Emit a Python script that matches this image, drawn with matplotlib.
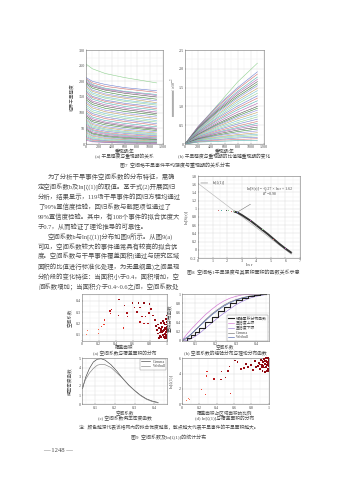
import numpy as np
import matplotlib
matplotlib.use('Agg')
import matplotlib.pyplot as plt
from matplotlib.ticker import FormatStrFormatter, AutoMinorLocator

plt.rcParams['font.family'] = ['Liberation Serif', 'Noto Sans CJK SC', 'DejaVu Sans']
plt.rcParams['mathtext.fontset'] = 'stix'
plt.rcParams['axes.unicode_minus'] = False

W, H = 339, 480
TXT = '#4a4a4a'

# ---- Fig 7 data: one row per drought event ----
t_a = [2, 100, 300, 600, 1100]
curves_a = [
    [255, 240, 225, 212, 195], [212, 200, 190, 180, 170], [208, 195, 184, 176, 165],
    [205, 190, 178, 168, 158], [200, 187, 175, 166, 155], [196, 183, 172, 162, 150],
    [192, 178, 166, 155, 143], [188, 172, 160, 150, 138], [183, 168, 156, 146, 132],
    [178, 163, 150, 140, 128], [172, 158, 146, 136, 124], [168, 152, 140, 130, 118],
    [163, 148, 136, 126, 113], [158, 143, 131, 120, 108], [152, 137, 125, 115, 102],
    [147, 132, 120, 110, 97], [141, 126, 114, 104, 92], [135, 120, 108, 98, 86],
    [130, 115, 103, 93, 81], [124, 109, 97, 87, 75], [118, 103, 92, 82, 70],
    [112, 97, 86, 77, 65], [106, 92, 81, 72, 60], [100, 86, 75, 66, 55],
    [95, 81, 70, 61, 50], [90, 76, 66, 57, 47], [85, 71, 61, 53, 43],
    [80, 66, 56, 48, 39], [76, 62, 52, 44, 35], [72, 58, 48, 40, 32],
    [68, 54, 45, 37, 29], [64, 50, 41, 34, 26], [60, 46, 37, 30, 23],
    [56, 43, 34, 27, 20], [52, 39, 31, 24, 18], [48, 35, 27, 21, 15],
    [44, 32, 24, 18, 13], [40, 28, 21, 15, 11], [36, 25, 18, 13, 9],
    [32, 21, 15, 11, 7], [28, 18, 12, 9, 6], [24, 15, 10, 7, 5],
    [20, 12, 8, 6, 4], [16, 9, 6, 4, 3], [12, 7, 5, 3, 2],
]
t_b = [0, 200, 500, 800, 1100]
curves_b = [
    [0, 0.45, 1.05, 1.65, 2.15], [0, 0.47, 1.03, 1.50, 1.92], [0, 0.46, 1.00, 1.46, 1.86],
    [0, 0.44, 0.96, 1.40, 1.78], [0, 0.43, 0.93, 1.36, 1.72], [0, 0.42, 0.90, 1.31, 1.66],
    [0, 0.40, 0.87, 1.26, 1.60], [0, 0.39, 0.84, 1.22, 1.55], [0, 0.37, 0.80, 1.17, 1.48],
    [0, 0.36, 0.77, 1.12, 1.42], [0, 0.34, 0.73, 1.07, 1.35], [0, 0.33, 0.70, 1.01, 1.28],
    [0, 0.31, 0.66, 0.96, 1.22], [0, 0.30, 0.63, 0.91, 1.15], [0, 0.28, 0.59, 0.85, 1.08],
    [0, 0.26, 0.55, 0.79, 1.00], [0, 0.25, 0.52, 0.75, 0.95], [0, 0.24, 0.50, 0.71, 0.90],
    [0, 0.23, 0.47, 0.67, 0.84], [0, 0.21, 0.44, 0.62, 0.78], [0, 0.20, 0.41, 0.57, 0.72],
    [0, 0.19, 0.38, 0.53, 0.66], [0, 0.17, 0.35, 0.48, 0.60], [0, 0.16, 0.32, 0.44, 0.55],
    [0, 0.15, 0.30, 0.41, 0.50], [0, 0.14, 0.27, 0.37, 0.45], [0, 0.13, 0.24, 0.33, 0.40],
    [0, 0.12, 0.22, 0.29, 0.35], [0, 0.11, 0.19, 0.25, 0.30], [0, 0.10, 0.17, 0.22, 0.26],
    [0, 0.09, 0.15, 0.19, 0.22], [0, 0.08, 0.12, 0.16, 0.18], [0, 0.06, 0.10, 0.12, 0.14],
    [0, 0.05, 0.07, 0.09, 0.10],
]
line_colors = ['#8fd08f', '#6f80d0', '#d07070', '#50b0b0', '#b060b0', '#555555',
               '#3a8a3a', '#9090e0', '#c0a060', '#70c0d0']

# ---- Fig 8 data ----
lnr_flat = [0.69, 1.10, 1.39, 1.61, 1.79, 1.95, 2.08, 2.20, 2.30, 2.40]
lns_flat = [0.97, 0.97, 0.96, 0.96, 0.96, 0.95, 0.95, 0.95, 0.94, 0.94]
lnr_curve = [2.5, 2.7, 3.0, 3.3, 3.6, 4.0, 4.4, 4.8, 5.2, 5.6, 6.0, 6.4]
lns_curve = [0.93, 0.91, 0.85, 0.78, 0.71, 0.60, 0.49, 0.38, 0.26, 0.14, 0.03, -0.07]
fit_x = [0, 6.4]
fit_y = [1.62, -0.108]
ln_zeta1 = 1.63

# ---- Fig 9 data ----
area_a = [0.05, 0.06, 0.20, 0.20, 0.23, 0.26, 0.27, 0.33, 0.35, 0.34, 0.43, 0.44, 0.50, 0.53,
          0.49, 0.54, 0.62, 0.67, 0.69, 0.73, 0.71, 0.75, 0.80, 0.82, 0.69, 0.73, 0.78, 0.84,
          0.86, 0.79, 0.60, 0.65,
          0.88, 0.89, 0.90, 0.91, 0.92, 0.93, 0.93, 0.94, 0.95, 0.95, 0.96, 0.96, 0.97, 0.97,
          0.98, 0.98, 0.99, 0.99, 0.99, 1.00, 1.00, 1.00, 1.00, 1.00, 0.99, 0.98, 0.97, 0.96,
          0.94, 0.92, 0.90, 0.91, 0.98, 1.00, 1.00, 0.99]
coef_a = [0.10, 0.14, 0.11, 0.15, 0.17, 0.19, 0.23, 0.31, 0.32, 0.29, 0.27, 0.41, 0.36, 0.29,
          0.16, 0.26, 0.34, 0.38, 0.34, 0.38, 0.26, 0.26, 0.37, 0.33, 0.21, 0.20, 0.20, 0.27,
          0.23, 0.29, 0.38, 0.30,
          0.18, 0.14, 0.11, 0.16, 0.09, 0.13, 0.20, 0.08, 0.12, 0.17, 0.10, 0.22, 0.14, 0.08,
          0.19, 0.11, 0.24, 0.15, 0.09, 0.27, 0.21, 0.13, 0.17, 0.10, 0.12, 0.16, 0.20, 0.13,
          0.15, 0.12, 0.19, 0.07, 0.07, 0.07, 0.24, 0.19]
r2_a = [0.3, 0.3, 0.4, 0.4, 0.5, 0.5, 0.6, 0.8, 0.8, 0.7, 0.85, 0.9, 0.9, 0.85,
        0.6, 0.8, 0.9, 0.95, 0.9, 0.95, 0.85, 0.85, 0.95, 0.9, 0.8, 0.8, 0.85, 0.9,
        0.9, 0.9, 0.9, 0.9] + [0.95] * 36

cdf_x = [0.04, 0.06, 0.08, 0.10, 0.12, 0.15, 0.18, 0.21, 0.24, 0.27, 0.30, 0.33, 0.36, 0.39, 0.42, 0.45]
cdf_emp = [0.0, 0.06, 0.13, 0.20, 0.28, 0.40, 0.52, 0.63, 0.72, 0.80, 0.87, 0.92, 0.95, 0.98, 1.0, 1.0]
cdf_up = [0.04, 0.15, 0.25, 0.34, 0.43, 0.56, 0.67, 0.77, 0.85, 0.91, 0.95, 0.98, 0.99, 1.0, 1.0, 1.0]
cdf_lo = [0.0, 0.01, 0.05, 0.10, 0.16, 0.27, 0.38, 0.49, 0.59, 0.68, 0.77, 0.84, 0.90, 0.94, 0.97, 0.99]
cdf_gam = [0.01, 0.06, 0.14, 0.23, 0.32, 0.45, 0.57, 0.67, 0.76, 0.83, 0.88, 0.92, 0.95, 0.97, 0.98, 0.99]
cdf_wbl = [0.03, 0.08, 0.15, 0.23, 0.31, 0.43, 0.55, 0.65, 0.74, 0.81, 0.87, 0.91, 0.94, 0.96, 0.98, 0.99]

pdf_x = [0.035, 0.05, 0.07, 0.09, 0.11, 0.13, 0.15, 0.18, 0.21, 0.24, 0.27, 0.30, 0.33, 0.36, 0.39, 0.42]
pdf_gam = [1.7, 2.9, 3.9, 4.6, 4.9, 4.95, 4.8, 4.3, 3.6, 2.8, 2.1, 1.5, 1.0, 0.6, 0.35, 0.2]
pdf_wbl = [1.9, 2.7, 3.4, 3.9, 4.25, 4.35, 4.3, 4.0, 3.4, 2.8, 2.1, 1.5, 0.95, 0.55, 0.3, 0.15]

area_d = [0.05, 0.07, 0.09, 0.23, 0.27, 0.28, 0.29, 0.37, 0.45, 0.46, 0.50, 0.53, 0.55, 0.56,
          0.61, 0.64, 0.68, 0.72, 0.74, 0.76, 0.80, 0.82, 0.84, 0.86,
          0.88, 0.89, 0.90, 0.91, 0.92, 0.93, 0.93, 0.94, 0.95, 0.95, 0.96, 0.96, 0.97, 0.97,
          0.98, 0.98, 0.99, 0.99, 0.99, 1.00, 1.00, 1.00, 1.00, 1.00, 0.98, 0.97, 0.96, 0.94,
          0.92, 0.90]
lnz_d = [0.5, 0.7, 0.6, 1.96, 1.3, 3.7, 4.3, 3.3, 3.2, 4.3, 3.5, 4.35, 4.9, 1.4,
         5.7, 5.5, 4.6, 4.7, 5.3, 4.9, 5.1, 4.5, 5.6, 4.9,
         5.0, 5.4, 4.6, 5.8, 5.1, 4.3, 5.6, 5.0, 5.9, 4.8, 5.3, 4.2, 5.7, 4.9,
         5.5, 5.1, 6.0, 4.6, 5.3, 5.8, 5.0, 4.4, 5.5, 6.0, 4.4, 6.0, 5.6, 5.5,
         4.9, 5.2]
r2_d = [0.3, 0.3, 0.3, 0.5, 0.5, 0.6, 0.6, 0.8, 0.85, 0.85, 0.85, 0.9, 0.9, 0.6,
        0.95, 0.9, 0.9, 0.9, 0.95, 0.95, 0.95, 0.9, 0.95, 0.95] + [0.95] * 30

para = [
    "为了分析干旱事件空间系数的分布特征，需确",
    "定空间系数b及ln[ζ(1)]的取值。基于式(2)开展回归",
    "分析，结果显示，119场干旱事件的回归方程均通过",
    "了99%置信度检验，回归系数与截距项也通过了",
    "99%置信度检验。其中，有108个事件的拟合优度大",
    "于0.7，从而验证了理论推导的可靠性。",
    "空间系数b与ln[ζ(1)]分布如图9所示。从图9(a)",
    "可见，空间系数较大的事件通常具有较高的拟合优",
    "度。空间系数与干旱事件覆盖面积(通过与研究区域",
    "面积的比值进行标准化处理，为无量纲量)之间呈现",
    "分阶段的变化特征：当面积小于0.4，面积增加，空",
    "间系数增加；当面积介于0.4~0.6之间，空间系数处",
]
indent = [True, False, False, False, False, False, True, False, False, False, False, False]


def add_ax(l, t, r, b):
    return fig.add_axes([l / W, 1 - b / H, (r - l) / W, (b - t) / H])


def txt(x, y, s, size, ha='center', rot=0, color=TXT):
    fig.text(x / W, 1 - y / H, s, fontsize=size, ha=ha, va='center',
             rotation=rot, color=color)


def style(ax, xt, yt, fmt_x='%g', fmt_y='%g'):
    ax.set_xticks(xt)
    ax.set_yticks(yt)
    ax.xaxis.set_major_formatter(FormatStrFormatter(fmt_x))
    ax.yaxis.set_major_formatter(FormatStrFormatter(fmt_y))
    ax.xaxis.set_minor_locator(AutoMinorLocator(2))
    ax.yaxis.set_minor_locator(AutoMinorLocator(2))
    ax.grid(True, which='major', color='#d6d6d6', lw=0.3)
    ax.grid(True, which='minor', color='#ebebeb', lw=0.25)
    ax.tick_params(which='both', direction='in', labelsize=3, length=1.0,
                   width=0.3, pad=1, colors='#666', labelcolor=TXT)
    ax.tick_params(which='minor', length=0)
    for sp in ax.spines.values():
        sp.set_linewidth(0.4)
        sp.set_color('#777')
    ax.set_axisbelow(True)


fig = plt.figure(figsize=(W / 100, H / 100), dpi=100)

# Fig 7 (a)
ax = add_ax(86, 50, 163, 144)
for i, row in enumerate(curves_a):
    ax.plot(t_a, row, color=line_colors[i % len(line_colors)], lw=0.4)
ax.set_xlim(0, 1200)
ax.set_ylim(0, 300)
style(ax, range(0, 1201, 200), range(0, 301, 50))
txt(72, 97, "临界干旱强度", 3.3, rot=90)
txt(124.5, 151.5, "重现期/年", 3.3)
txt(124.5, 156.7, "(a) 干旱强度与重现期的关系", 3.4)

# Fig 7 (b)
ax = add_ax(185, 50, 264, 144)
for i, row in enumerate(curves_b):
    ax.plot(t_b, row, color=line_colors[i % len(line_colors)], lw=0.4)
ax.set_xlim(0, 1200)
ax.set_ylim(0, 2.5)
style(ax, range(0, 1201, 200), [0, 0.5, 1.0, 1.5, 2.0, 2.5])
ax.set_yticklabels(['0', '0.5', '1.0', '1.5', '2.0', '2.5'])
txt(174, 97, r"临界干旱强度与重现期的比值/$\times10^{-2}$", 3.0, rot=90)
txt(224.5, 151.5, "重现期/年", 3.3)
txt(224.5, 156.7, "(b) 干旱强度与重现期的比值随重现期的变化", 3.4)
txt(175, 165.7, "图7  空间格干旱事件平均强度与重现期的关系分布", 3.6)

# paragraph
for i, line in enumerate(para):
    txt(48 if indent[i] else 38, 177 + 10 * i, line, 4.6, ha='left', color='#505050')

# Fig 8
ax = add_ax(198, 176, 300, 258)
ax.plot(fit_x, fit_y, color='#b8b8b8', lw=0.45)
ax.plot(lnr_curve, lns_curve, color='#353535', lw=1.4, solid_capstyle='round')
ax.scatter(lnr_flat, lns_flat, s=0.35, marker='s',
           c=[line_colors[i % 6] for i in range(len(lnr_flat))], lw=0)
ax.scatter(lnr_curve, lns_curve, s=0.35, marker='s',
           c=[line_colors[i % 6] for i in range(len(lnr_curve))], lw=0, zorder=3)
ax.annotate("ln[ζ(1)]", xy=(0, ln_zeta1), xytext=(1.05, ln_zeta1), fontsize=3,
            va='center', color=TXT,
            arrowprops=dict(arrowstyle='-', color='#666', lw=0.35))
ax.annotate("ln[S(r)] = -0.27 × ln r + 1.62\n$R^2$=0.98", xy=(2.75, 0.93),
            xytext=(4.9, 1.39), fontsize=2.9, ha='center', va='center',
            color=TXT, linespacing=0.9,
            arrowprops=dict(arrowstyle='-', color='#666', lw=0.35,
                            shrinkA=3, shrinkB=0))
ax.set_xlim(0, 7)
ax.set_ylim(-0.2, 1.8)
style(ax, range(0, 8), np.arange(-0.2, 1.81, 0.2))
txt(186, 217, "ln[S(r)]", 3.3, rot=90)
txt(249, 265.5, "ln r", 3.3)
txt(243, 272.7, "图8  空间格1干旱强度与其累积面积的函数关系示意", 3.6)

# Fig 9 (a)
ax = add_ax(82, 294, 166.5, 340.7)
ax.scatter(area_a, coef_a, s=[0.3 + 1.6 * a for a in area_a], marker='s',
           c=[plt.cm.Reds(0.25 + 0.7 * r) for r in r2_a], lw=0, zorder=3, clip_on=False)
ax.set_xlim(0, 1)
ax.set_ylim(0.047, 0.46)
style(ax, [0, 0.2, 0.4, 0.6, 0.8, 1], [0.1, 0.2, 0.3, 0.4])
txt(70, 318, "空间系数", 3.3, rot=90)
txt(124.5, 347.8, "覆盖面积", 3.3)
txt(124.5, 353, "(a) 空间系数与覆盖面积的分布", 3.4)

# Fig 9 (b)
ax = add_ax(182, 294, 268.5, 341)
ax.plot(cdf_x, cdf_up, color='#d070d0', lw=0.45)
ax.plot(cdf_x, cdf_lo, color='#9a7ad8', lw=0.45)
ax.plot(cdf_x, cdf_gam, color='#707070', lw=0.45)
ax.plot(cdf_x, cdf_wbl, color='#4a5fa8', lw=0.45)
ax.plot(cdf_x, cdf_emp, color='#202020', lw=0.8, drawstyle='steps-post')
h = ax.get_lines()
leg = ax.legend([h[4], h[0], h[1], h[2], h[3]],
                ["经验累积分布函数", "置信度上限", "置信度下限", "Gamma", "Weibull"],
                loc='lower right', fontsize=2.8, frameon=True, fancybox=False,
                handlelength=1.6, borderpad=0.3, labelspacing=0.15, borderaxespad=0.1,
                handletextpad=0.4)
leg.get_frame().set_linewidth(0.3)
leg.get_frame().set_edgecolor('#666')
for t in leg.get_texts():
    t.set_color(TXT)
ax.set_xlim(0.035, 0.46)
ax.set_ylim(0, 1)
style(ax, [0.1, 0.2, 0.3, 0.4], [0, 0.2, 0.4, 0.6, 0.8, 1])
txt(170, 318, "累积分布函数", 3.3, rot=90)
txt(225, 347.8, "空间系数", 3.3)
txt(225, 353, "(b) 空间系数的经验分布与理论分布函数", 3.4)

# Fig 9 (c)
ax = add_ax(82, 358.3, 166.5, 404.3)
ax.plot(pdf_x, pdf_gam, color='#404040', lw=0.45, label='Gamma')
ax.plot(pdf_x, pdf_wbl, color='#808080', lw=0.45, label='Weibull')
leg = ax.legend(loc='upper right', fontsize=2.8, frameon=True, fancybox=False,
                handlelength=2.2, borderpad=0.3, labelspacing=0.15, borderaxespad=0.1)
leg.get_frame().set_linewidth(0.3)
leg.get_frame().set_edgecolor('#666')
for t in leg.get_texts():
    t.set_color(TXT)
ax.set_xlim(0.032, 0.463)
ax.set_ylim(0, 5)
style(ax, [0.1, 0.2, 0.3, 0.4], range(0, 6))
txt(70, 381, "概率密度函数", 3.3, rot=90)
txt(124.5, 413.5, "空间系数", 3.3)
txt(124.5, 418.7, "(c) 空间系数概率密度函数", 3.4)

# Fig 9 (d)
ax = add_ax(182, 358.3, 268.5, 404.3)
ax.scatter(area_d, lnz_d, s=[0.3 + 1.6 * a for a in area_d], marker='s',
           c=[plt.cm.Reds(0.25 + 0.7 * r) for r in r2_d], lw=0, zorder=3, clip_on=False)
ax.set_xlim(0, 1)
ax.set_ylim(0, 6)
style(ax, [0, 0.2, 0.4, 0.6, 0.8, 1], [0, 2, 4, 6])
txt(172, 381, "ln[ζ(1)]", 3.3, rot=90)
txt(225, 413.2, "覆盖面积占区域面积的比例", 3.3)
txt(225, 418.7, "(d) ln[ζ(1)]与覆盖面积的分布", 3.4)

txt(169, 427, "注：颜色越深代表该格网内的拟合优度越高，散点越大代表干旱事件的干旱面积越大。", 3.4)
txt(169, 437, "图9  空间系数及ln[ζ(1)]的统计分布", 3.6)
txt(58, 451, "— 1248 —", 4.8)

fig.savefig('out.png', dpi=100)
